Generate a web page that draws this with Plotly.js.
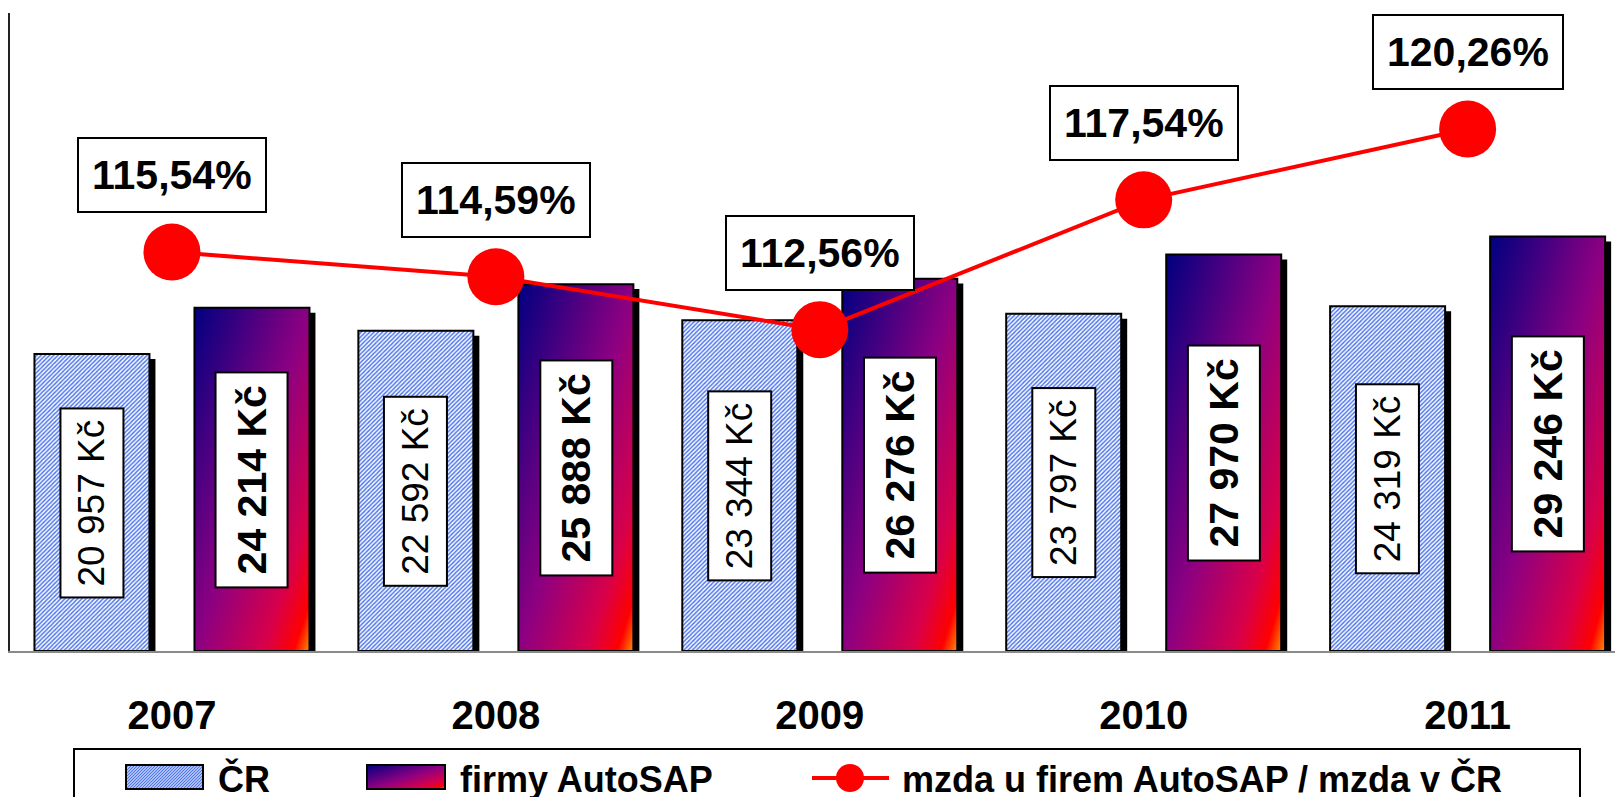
<!DOCTYPE html>
<html><head><meta charset="utf-8">
<script src="https://cdn.plot.ly/plotly-3.0.1.min.js"></script>
<style>html,body{margin:0;padding:0;background:#fff;} #chart{width:1615px;height:797px;}</style>
</head><body>
<svg width="0" height="0" style="position:absolute">
<defs>
<linearGradient id="fireGrad" x1="0" y1="0" x2="1" y2="1">
 <stop offset="0" stop-color="#000080"/>
 <stop offset="0.5" stop-color="#8c0082"/>
 <stop offset="0.8" stop-color="#d8004a"/>
 <stop offset="0.93" stop-color="#ff0000"/>
 <stop offset="1" stop-color="#ff9000"/>
</linearGradient>
<pattern id="hatch" patternUnits="userSpaceOnUse" width="3" height="3">
 <rect width="3" height="3" fill="#ffffff"/>
 <path d="M-1,1 l2,-2 M0,3 l3,-3 M2,4 l2,-2" stroke="#5078ee" stroke-width="1.4"/>
</pattern>
</defs></svg>
<div id="chart"></div>
<script>
// ---- data ----
const years = ['2007', '2008', '2009', '2010', '2011'];
const crWage = [20957, 22592, 23344, 23797, 24319];
const autosapWage = [24214, 25888, 26276, 27970, 29246];
const ratioPct = [115.54, 114.59, 112.56, 117.54, 120.26];
const seriesNames = ['ČR', 'firmy AutoSAP', 'mzda u firem AutoSAP / mzda v ČR'];

// ---- formatting ----
const fmtKc = n => String(n).replace(/\B(?=(\d{3})+(?!\d))/g, ' ') + ' Kč';
const fmtPct = v => v.toFixed(2).replace('.', ',') + '%';

// ---- geometry / style ----
const FONT = 'Liberation Sans, Arial, sans-serif';
const PLOT_L = 10, PLOT_T = 13, PLOT_W = 1605, PLOT_H = 638;
const XRANGE = [-0.5, 4.455];
const PX_PER_CAT = PLOT_W / (XRANGE[1] - XRANGE[0]);
const BAR_W = 0.355;
const CR_OFF = -0.4245, AS_OFF = 0.0695;
const SHADOW_DX = 6 / PX_PER_CAT;
const SHADOW_DY = 350;
const px2x = px => (px - PLOT_L) / PLOT_W;
const px2y = py => (PLOT_T + PLOT_H - py) / PLOT_H;

const traces = [
  { type: 'bar', x: years, y: crWage, base: crWage.map(() => -SHADOW_DY), offset: CR_OFF + SHADOW_DX, width: BAR_W,
    marker: { color: '#000000', line: { width: 0 } }, hoverinfo: 'skip', showlegend: false },
  { type: 'bar', x: years, y: autosapWage, base: autosapWage.map(() => -SHADOW_DY), offset: AS_OFF + SHADOW_DX, width: BAR_W,
    marker: { color: '#000000', line: { width: 0 } }, hoverinfo: 'skip', showlegend: false },
  { type: 'bar', name: seriesNames[0], x: years, y: crWage, offset: CR_OFF, width: BAR_W,
    marker: { color: '#ffffff', line: { color: '#000000', width: 2 },
      pattern: { shape: '/', fgcolor: '#5078ee', bgcolor: '#ffffff', size: 3, solidity: 0.5 } } },
  { type: 'bar', name: seriesNames[1], x: years, y: autosapWage, offset: AS_OFF, width: BAR_W,
    marker: { color: '#800080', line: { color: '#000000', width: 2 } } },
  { type: 'scatter', mode: 'lines+markers', name: seriesNames[2], x: years, y: ratioPct, yaxis: 'y2',
    line: { color: '#ff0000', width: 4 }, marker: { color: '#ff0000', size: 57 } }
];

const annotations = [];
years.forEach((yr, i) => {
  annotations.push({ x: i, y: crWage[i] / 2, xref: 'x', yref: 'y', xshift: (CR_OFF + BAR_W / 2) * PX_PER_CAT,
    text: fmtKc(crWage[i]), textangle: -90, showarrow: false,
    font: { family: FONT, size: 37, color: '#000' }, bgcolor: '#ffffff', bordercolor: '#000', borderwidth: 2, borderpad: 10 });
  annotations.push({ x: i, y: autosapWage[i] / 2, xref: 'x', yref: 'y', xshift: (AS_OFF + BAR_W / 2) * PX_PER_CAT,
    text: fmtKc(autosapWage[i]), textangle: -90, showarrow: false,
    font: { family: FONT, size: 41, color: '#000', weight: 'bold' }, bgcolor: '#ffffff', bordercolor: '#000', borderwidth: 2, borderpad: 12 });
  annotations.push({ x: i, y: ratioPct[i], xref: 'x', yref: 'y2', yshift: 77,
    text: fmtPct(ratioPct[i]), showarrow: false,
    font: { family: FONT, size: 41, color: '#000', weight: 'bold' }, bgcolor: '#ffffff', bordercolor: '#000', borderwidth: 2, borderpad: 13 });
});

// manual legend texts
const legFont = { family: FONT, size: 36, color: '#000', weight: 'bold' };
const legY = px2y(779);
annotations.push({ xref: 'paper', yref: 'paper', x: px2x(216), y: legY, xanchor: 'left', yanchor: 'middle', showarrow: false, text: seriesNames[0], font: legFont });
annotations.push({ xref: 'paper', yref: 'paper', x: px2x(458), y: legY, xanchor: 'left', yanchor: 'middle', showarrow: false, text: seriesNames[1], font: legFont });
annotations.push({ xref: 'paper', yref: 'paper', x: px2x(900), y: legY, xanchor: 'left', yanchor: 'middle', showarrow: false, text: seriesNames[2], font: legFont });

const shapes = [
  { type: 'rect', xref: 'paper', yref: 'paper', x0: px2x(74), x1: px2x(1580), y0: px2y(749), y1: px2y(840),
    line: { color: '#000', width: 2 }, fillcolor: '#ffffff', layer: 'above' },
  { type: 'rect', xref: 'paper', yref: 'paper', x0: px2x(126), x1: px2x(203), y0: px2y(765), y1: px2y(789),
    line: { color: '#000', width: 2 }, fillcolor: '#9db5f5', layer: 'above' },
  { type: 'rect', xref: 'paper', yref: 'paper', x0: px2x(367), x1: px2x(445), y0: px2y(765), y1: px2y(789),
    line: { color: '#000', width: 2 }, fillcolor: '#800080', layer: 'above' },
  { type: 'line', xref: 'paper', yref: 'paper', x0: px2x(812), x1: px2x(889), y0: px2y(778), y1: px2y(778),
    line: { color: '#ff0000', width: 4 }, layer: 'above' },
  { type: 'circle', xref: 'paper', yref: 'paper', x0: px2x(836), x1: px2x(864), y0: px2y(764), y1: px2y(792),
    line: { color: '#ff0000', width: 0 }, fillcolor: '#ff0000', layer: 'above' }
];

const layout = {
  width: 1615, height: 797,
  margin: { l: PLOT_L, r: 1615 - PLOT_L - PLOT_W, t: PLOT_T, b: 797 - PLOT_T - PLOT_H, pad: 0 },
  paper_bgcolor: '#ffffff', plot_bgcolor: '#ffffff',
  barmode: 'overlay', showlegend: false, hovermode: false,
  font: { family: FONT, color: '#000' },
  xaxis: { type: 'category', range: XRANGE, showline: true, linecolor: '#8a8a8a', linewidth: 2,
    showgrid: false, zeroline: false, ticks: '', ticklabelstandoff: 28,
    tickfont: { family: FONT, size: 40, color: '#000', weight: 'bold' }, fixedrange: true },
  yaxis: { range: [0, 45020], showline: true, linecolor: '#222', linewidth: 2, showgrid: false, zeroline: false,
    showticklabels: false, ticks: '', fixedrange: true },
  yaxis2: { range: [100.23, 124.71], overlaying: 'y', visible: false, fixedrange: true },
  annotations: annotations,
  shapes: shapes
};

Plotly.newPlot('chart', traces, layout, { displayModeBar: false, staticPlot: true }).then(gd => {
  const barTraces = gd.querySelectorAll('.barlayer .trace');
  if (barTraces[3]) barTraces[3].querySelectorAll('path').forEach(p => { p.style.fill = 'url(#fireGrad)'; });
  const s1 = gd.querySelector('.shapelayer path[data-index="1"]');
  const s2 = gd.querySelector('.shapelayer path[data-index="2"]');
  if (s1) s1.style.fill = 'url(#hatch)';
  if (s2) s2.style.fill = 'url(#fireGrad)';
});
</script>
</body></html>
